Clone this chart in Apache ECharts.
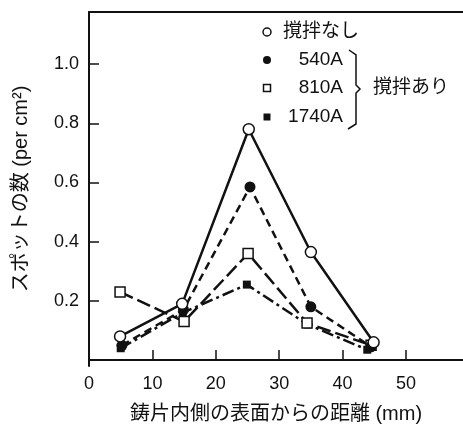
<!DOCTYPE html>
<html><head><meta charset="utf-8">
<script src="https://cdn.jsdelivr.net/npm/echarts@6/dist/echarts.min.js"></script>
<style>html,body{margin:0;padding:0;background:#fff}#c{width:463px;height:425px}</style>
</head><body><div id="c"></div>
<script>
const xTickLabels = [0, 10, 20, 30, 40, 50];
const yTickLabels = [0.2, 0.4, 0.6, 0.8, 1.0];
const seriesNames = ['撹拌なし', '540A', '810A', '1740A'];
const xNashi = [4.9, 14.7, 25.2, 35.0, 44.9];
const yNashi = [0.08, 0.19, 0.78, 0.365, 0.06];
const x540 = [5.2, 14.9, 25.4, 35.0, 44.5];
const y540 = [0.05, 0.17, 0.585, 0.18, 0.045];
const x810 = [4.9, 15.0, 25.1, 34.4, 44.5];
const y810 = [0.23, 0.13, 0.36, 0.125, 0.05];
const x1740 = [5.0, 14.8, 24.9, 34.5, 43.9];
const y1740 = [0.04, 0.16, 0.255, 0.12, 0.035];

const FONT = '"Liberation Sans", "Noto Sans CJK JP", sans-serif';
const pair = (xs, ys) => xs.map((x, i) => [x, ys[i]]);

const chart = echarts.init(document.getElementById('c'), null, {renderer: 'canvas'});
const lineBase = {type: 'line', symbolKeepAspect: true, animation: false};
chart.setOption({
  backgroundColor: '#fff',
  animation: false,
  grid: {left: 89, top: 12, right: 0, bottom: 59, containLabel: false, outerBoundsMode: 'none'},
  xAxis: [{
    type: 'value', min: 0, max: 59,
    axisLine: {show: true, lineStyle: {color: '#111', width: 2}},
    axisTick: {show: true, inside: true, length: 10, lineStyle: {color: '#111', width: 1.5}, customValues: [10, 20, 30, 40, 50]},
    axisLabel: {customValues: xTickLabels, color: '#111', fontSize: 18, fontFamily: FONT, margin: 9},
    splitLine: {show: false},
    name: '鋳片内側の表面からの距離 (mm)', nameLocation: 'middle', nameGap: 38,
    nameTextStyle: {color: '#111', fontSize: 20, fontFamily: FONT}
  }, {
    type: 'value', min: 0, max: 59, position: 'top',
    axisLine: {show: true, lineStyle: {color: '#111', width: 2}},
    axisTick: {show: false}, axisLabel: {show: false}, splitLine: {show: false}
  }],
  yAxis: {
    type: 'value', min: -0.02, max: 1.176,
    axisLine: {show: true, lineStyle: {color: '#111', width: 2}},
    axisTick: {show: true, inside: true, length: 10, lineStyle: {color: '#111', width: 1.5}, customValues: yTickLabels},
    axisLabel: {customValues: yTickLabels, color: '#111', fontSize: 18, fontFamily: FONT, margin: 10,
      formatter: v => v.toFixed(1)},
    splitLine: {show: false},
    name: 'スポットの数 (per cm²)', nameLocation: 'middle', nameGap: 58, nameRotate: 90,
    nameTextStyle: {color: '#111', fontSize: 20, fontFamily: FONT}
  },
  series: [
    Object.assign({}, lineBase, {name: seriesNames[3], data: pair(x1740, y1740), symbol: 'rect', symbolSize: 8,
      itemStyle: {color: '#111'}, lineStyle: {color: '#111', width: 2.5, type: [12, 4, 3, 4]}}),
    Object.assign({}, lineBase, {name: seriesNames[2], data: pair(x810, y810), symbol: 'rect', symbolSize: 10,
      itemStyle: {color: '#fff', borderColor: '#111', borderWidth: 1.5}, lineStyle: {color: '#111', width: 2.5, type: [14, 5]}}),
    Object.assign({}, lineBase, {name: seriesNames[1], data: pair(x540, y540), symbol: 'circle', symbolSize: 11,
      itemStyle: {color: '#111'}, lineStyle: {color: '#111', width: 2.5, type: [8, 5]}}),
    Object.assign({}, lineBase, {name: seriesNames[0], data: pair(xNashi, yNashi), symbol: 'circle', symbolSize: 11,
      itemStyle: {color: '#fff', borderColor: '#111', borderWidth: 1.5}, lineStyle: {color: '#111', width: 2.5, type: 'solid'}})
  ],
  graphic: [
    {type: 'circle', shape: {cx: 267, cy: 32, r: 4}, style: {fill: '#fff', stroke: '#111', lineWidth: 1.5}},
    {type: 'text', x: 283, y: 32, style: {text: seriesNames[0], fill: '#111', font: '19px ' + FONT, textVerticalAlign: 'middle'}},
    {type: 'circle', shape: {cx: 267, cy: 60, r: 4}, style: {fill: '#111'}},
    {type: 'text', x: 343, y: 60, style: {text: seriesNames[1], fill: '#111', font: '19px ' + FONT, textAlign: 'right', textVerticalAlign: 'middle'}},
    {type: 'rect', shape: {x: 263.5, y: 84.5, width: 7, height: 7}, style: {fill: '#fff', stroke: '#111', lineWidth: 1.5}},
    {type: 'text', x: 343, y: 88, style: {text: seriesNames[2], fill: '#111', font: '19px ' + FONT, textAlign: 'right', textVerticalAlign: 'middle'}},
    {type: 'rect', shape: {x: 263.5, y: 113.5, width: 7, height: 7}, style: {fill: '#111'}},
    {type: 'text', x: 343, y: 117, style: {text: seriesNames[3], fill: '#111', font: '19px ' + FONT, textAlign: 'right', textVerticalAlign: 'middle'}},
    {type: 'polyline', shape: {points: [[349, 50], [356, 55], [356, 85], [360, 89], [356, 93], [356, 124], [348, 129]]},
      style: {stroke: '#111', lineWidth: 1.5, fill: 'none'}},
    {type: 'text', x: 373, y: 88, style: {text: '撹拌あり', fill: '#111', font: '19px ' + FONT, textVerticalAlign: 'middle'}}
  ]
});
</script></body></html>
